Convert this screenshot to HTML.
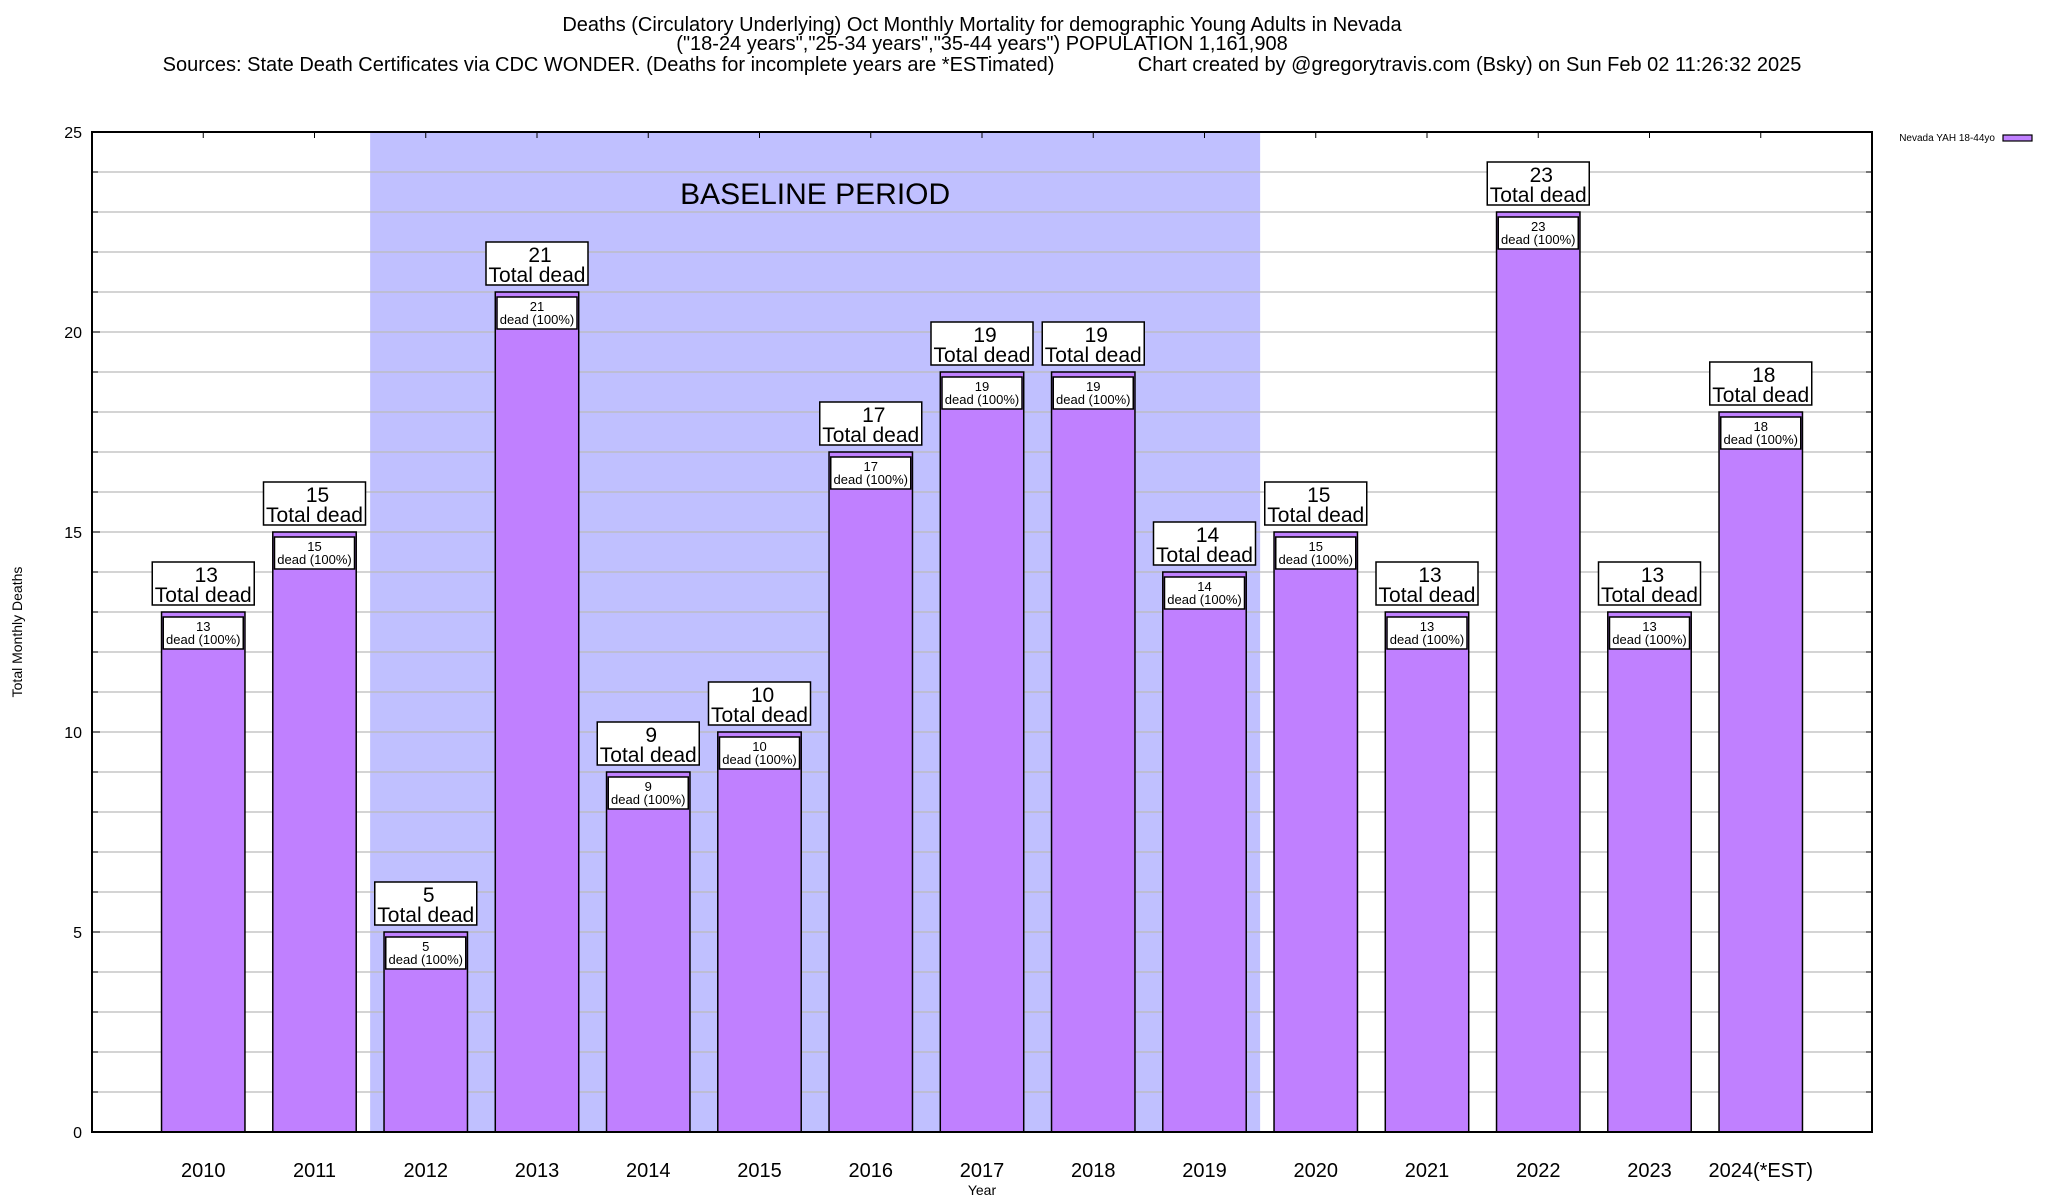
<!DOCTYPE html>
<html><head><meta charset="utf-8"><style>
html,body{margin:0;padding:0;background:#fff}
svg{display:block;font-family:"Liberation Sans",sans-serif}
</style></head><body>
<svg id="chart" width="2048" height="1200" viewBox="0 0 2048 1200">
<g font-size="20" text-anchor="middle">
<text x="982" y="31">Deaths (Circulatory Underlying) Oct Monthly Mortality for demographic Young Adults in Nevada</text>
<text x="982" y="50">("18-24 years","25-34 years","35-44 years") POPULATION 1,161,908</text>
<text x="982" y="71" xml:space="preserve">Sources: State Death Certificates via CDC WONDER. (Deaths for incomplete years are *ESTimated)               Chart created by @gregorytravis.com (Bsky) on Sun Feb 02 11:26:32 2025</text>
</g>
<g id="plot"></g>
<text x="22" y="632" font-size="14" text-anchor="middle" transform="rotate(-90 22 632)">Total Monthly Deaths</text>
<text x="982" y="1195" font-size="14" text-anchor="middle">Year</text>
<g>
<text x="1995" y="141" font-size="10" text-anchor="end">Nevada YAH 18-44yo</text>
<rect x="2003" y="135" width="29" height="6" fill="#c080ff" stroke="#000" stroke-width="1.2"/>
</g>
</svg>
<script>
const categories = ["2010","2011","2012","2013","2014","2015","2016","2017","2018","2019","2020","2021","2022","2023","2024(*EST)"];
const values = [13,15,5,21,9,10,17,19,19,14,15,13,23,13,18];
const yTicks = [0,5,10,15,20,25];
const baselineStart = 1.5, baselineEnd = 9.5;

const L=92,R=1872,T=132,B=1132,xMin=-1,xMax=15,yMax=25;
const xs=v=>L+(v-xMin)*(R-L)/(xMax-xMin);
const ys=v=>B-v*(B-T)/yMax;
const NS="http://www.w3.org/2000/svg";
const g=document.getElementById('plot');
function mk(tag,attrs,parent){const e=document.createElementNS(NS,tag);for(const k in attrs)e.setAttribute(k,attrs[k]);(parent||g).appendChild(e);return e;}

const shade=mk('rect',{x:xs(baselineStart),y:T,width:xs(baselineEnd)-xs(baselineStart),height:B-T,fill:'#c0c0ff'});


const bl=mk('text',{x:(xs(baselineStart)+xs(baselineEnd))/2,y:204,'font-size':30,'text-anchor':'middle'});
bl.textContent='BASELINE PERIOD';



for(let v=1;v<yMax;v++){
  const gl=mk('line',{x1:L,x2:R,y1:ys(v),y2:ys(v),stroke:'#bbb','stroke-width':1.2});
  
  
  mk('line',{x1:L,x2:L+6,y1:ys(v),y2:ys(v),stroke:'#000'});
  mk('line',{x1:R,x2:R-6,y1:ys(v),y2:ys(v),stroke:'#000'});
}
yTicks.forEach(v=>{
  mk('line',{x1:L,x2:L+8,y1:ys(v),y2:ys(v),stroke:'#000'});
  const t=mk('text',{x:82,y:ys(v)+6,'font-size':16,'text-anchor':'end'});
  t.textContent=v;
  
  
});

const bw=0.75*(R-L)/(xMax-xMin);
categories.forEach((c,i)=>{
  const cx=xs(i), top=ys(values[i]);
  mk('line',{x1:cx,x2:cx,y1:T,y2:T+6,stroke:'#000'});
  const bar=mk('rect',{x:cx-bw/2,y:top,width:bw,height:B-top,fill:'#c080ff',stroke:'#000','stroke-width':1.5});
  
  
  const ib=mk('rect',{x:cx-40,y:top+5,width:80,height:32,fill:'#fff',stroke:'#000','stroke-width':1.5});
  
  
  const it=mk('text',{x:cx,y:top+19,'font-size':13,'text-anchor':'middle'});
  
  
  const s1=mk('tspan',{x:cx},it);s1.textContent=values[i];
  const s2=mk('tspan',{x:cx,dy:13},it);s2.textContent='dead (100%)';
  const ob=mk('rect',{x:cx-51,y:top-50,width:102,height:43,fill:'#fff',stroke:'#000','stroke-width':1.5});
  
  
  const ot=mk('text',{x:cx,y:top-30,'font-size':21,'text-anchor':'middle'});
  
  
  const o1=mk('tspan',{x:cx+3},ot);o1.textContent=values[i];
  const o2=mk('tspan',{x:cx,dy:20},ot);o2.textContent='Total dead';
  const xl=mk('text',{x:cx,y:1177,'font-size':20,'text-anchor':'middle'});
  xl.textContent=c;
  
  
});
const frame=mk('rect',{x:L,y:T,width:R-L,height:B-T,fill:'none',stroke:'#000','stroke-width':2});


</script>
</body></html>
